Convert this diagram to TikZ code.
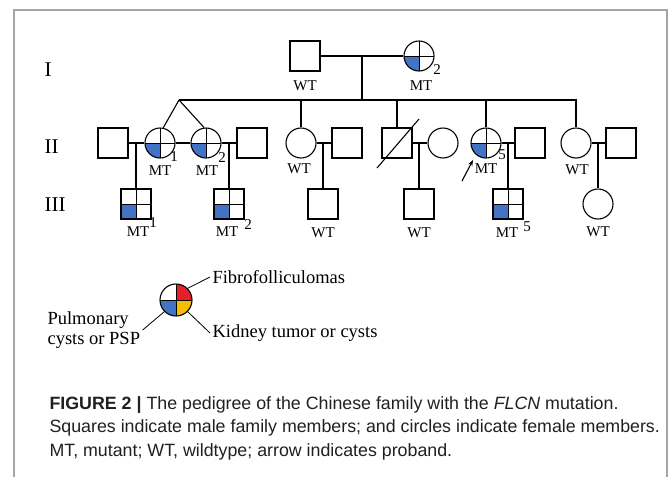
\documentclass[tikz,border=0pt]{standalone}
\usepackage{fontspec}
\setmainfont{Liberation Serif}
\setsansfont{Liberation Sans}
\usetikzlibrary{arrows.meta}
\definecolor{mtblue}{RGB}{68,114,196}
\definecolor{fred}{RGB}{232,30,40}
\definecolor{kyellow}{RGB}{246,190,0}
\definecolor{framegray}{RGB}{165,165,165}
\definecolor{captext}{RGB}{35,31,32}

\tikzset{
  male/.style={draw, rectangle, minimum size=30pt, inner sep=0pt},
  female/.style={draw, circle, minimum size=30pt, inner sep=0pt},
  carrier/.style={path picture={
    \fill[mtblue] (path picture bounding box.center) rectangle (path picture bounding box.south west);
    \draw[line width=0.7pt] (path picture bounding box.north) -- (path picture bounding box.south)
      (path picture bounding box.west) -- (path picture bounding box.east);}},
  keycircle/.style={draw, circle, minimum size=32pt, inner sep=0pt, path picture={
    \fill[fred] (path picture bounding box.center) rectangle (path picture bounding box.north east);
    \fill[kyellow] (path picture bounding box.center) rectangle (path picture bounding box.south east);
    \fill[mtblue] (path picture bounding box.center) rectangle (path picture bounding box.south west);
    \draw[line width=0.7pt] (path picture bounding box.north) -- (path picture bounding box.south)
      (path picture bounding box.west) -- (path picture bounding box.east);}},
  txt/.style={font=\fontsize{15}{18}\selectfont, inner sep=0pt},
  gen/.style={font=\fontsize{21}{24}\selectfont, inner sep=0pt, anchor=west},
  key/.style={font=\fontsize{18.5}{20}\selectfont, inner sep=2pt, align=left},
}

\begin{document}
\begin{tikzpicture}[x=1pt,y=-1pt,line width=1.1pt]
\useasboundingbox (0,0) rectangle (668,477);
\draw[framegray, line width=1.4pt] (14,477) -- (14,10) -- (667,10) -- (667,477);

% generation labels
\node[gen] (gI) at (44,70) {I};
\node[gen] (gII) at (44,147) {II};
\node[gen] (gIII) at (44,205) {III};

% generation I
\node[male] (I1) at (305,56) {};
\node[female,carrier] (I2) at (419,56) {};
% generation II
\node[male] (A) at (113,143) {};
\node[female,carrier] (II1) at (160,143) {};
\node[female,carrier] (II2) at (206,143) {};
\node[male] (B) at (252,143) {};
\node[female] (II3) at (301,143) {};
\node[male] (C) at (347,143) {};
\node[male] (II4) at (397,143) {};
\node[female] (E) at (443,143) {};
\node[female,carrier] (II5) at (486,143) {};
\node[male] (F) at (530,143) {};
\node[female] (II7) at (576,143) {};
\node[male] (G) at (621,143) {};
% generation III
\node[male,carrier] (III1) at (136,204) {};
\node[male,carrier] (III2) at (229,204) {};
\node[male] (III3) at (323,204) {};
\node[male] (III4) at (419,204) {};
\node[male,carrier] (III5) at (508,204) {};
\node[female] (III6) at (598,204) {};

% marriages and sibship
\coordinate (d1) at (362,56);
\coordinate (twin) at (179,100);
\draw (I1) -- (I2);
\draw (d1) -- (d1 |- twin);
\draw (twin) -- (II7 |- twin) -- (II7);
\draw (twin) -- (II1.78);
\draw (twin) -- (II2.97);
\draw (II3 |- twin) -- (II3);
\draw (II4 |- twin) -- (II4);
\draw (II5 |- twin) -- (II5);
\draw (A) -- (II1);
\draw (II1) -- (II2);
\draw (II2) -- (B);
\draw (II3) -- (C);
\draw (II4) -- (E);
\draw (II5) -- (F);
\draw (II7) -- (G);
\draw (III1 |- A) -- (III1);
\draw (III2 |- A) -- (III2);
\draw (III3 |- A) -- (III3);
\draw (III4 |- A) -- (III4);
\draw (III5 |- A) -- (III5);
\draw (III6 |- A) -- (III6);
\draw ([shift={(-20,25)}]II4.center) -- ([shift={(22,-24)}]II4.center);

% proband
\coordinate (arr) at (462,181);
\coordinate (arrtip) at (473,160);
\draw[-{Stealth[length=6pt,width=4.5pt]}] (arr) -- (arrtip);

% genotypes
\node[txt] (tI1) at (305,86) {WT};
\node[txt] (tI2) at (421,86) {MT};
\node[txt] (nI2) at (437,70) {2};
\node[txt] (tII1) at (160,171) {MT};
\node[txt] (nII1) at (174,157) {1};
\node[txt] (tII2) at (207,171) {MT};
\node[txt] (nII2) at (222,158) {2};
\node[txt] (tII3) at (299,169) {WT};
\node[txt] (tII5) at (486,169) {MT};
\node[txt] (nII5) at (502,155) {5};
\node[txt] (tII7) at (577,170) {WT};
\node[txt] (tIII1) at (138,232) {MT};
\node[txt] (nIII1) at (153,223) {1};
\node[txt] (tIII2) at (227,232) {MT};
\node[txt] (nIII2) at (248,225) {2};
\node[txt] (tIII3) at (323,233) {WT};
\node[txt] (tIII4) at (419,233) {WT};
\node[txt] (tIII5) at (507,233) {MT};
\node[txt] (nIII5) at (527,227) {5};
\node[txt] (tIII6) at (598,232) {WT};

% key
\node[keycircle] (keyc) at (176,300) {};
\node[key, anchor=west] (kF) at (210,277) {Fibrofolliculomas};
\node[key, anchor=west] (kK) at (210,333) {Kidney tumor or cysts};
\node[key, anchor=west] (kP) at (45,330) {Pulmonary\\cysts or PSP};
\draw[line width=0.8pt] (keyc.45) -- (kF.west);
\draw[line width=0.8pt] (keyc.-45) -- (kK.west);
\draw[line width=0.8pt] (keyc.225) -- (kP.east);

% caption
\node[font=\sffamily\fontsize{17.8}{23.5}\selectfont, text=captext, align=left, anchor=north west, inner sep=0pt] (caption) at (49,396)
  {\textbf{FIGURE 2} \textbf{|} The pedigree of the Chinese family with the \textit{FLCN} mutation.\\
   Squares indicate male family members; and circles indicate female members.\\
   MT, mutant; WT, wildtype; arrow indicates proband.};
\end{tikzpicture}
\end{document}
